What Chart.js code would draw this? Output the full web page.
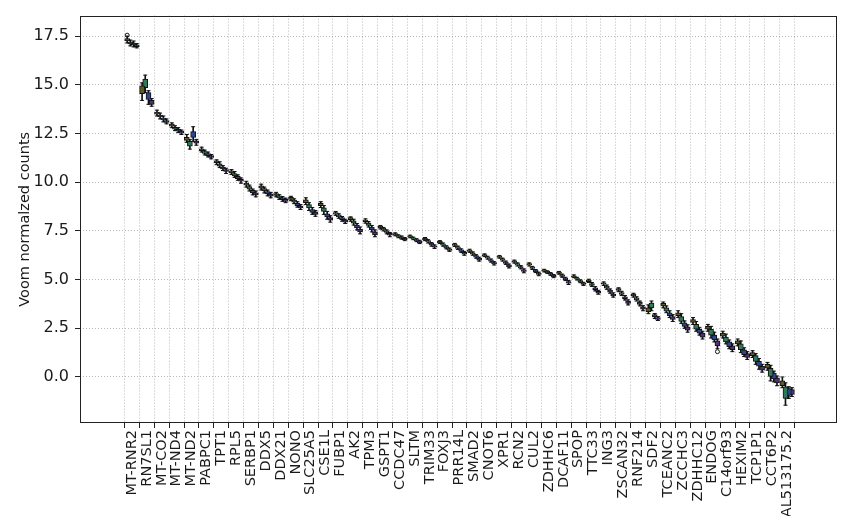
<!DOCTYPE html>
<html>
<head>
<meta charset="utf-8">
<script src="https://cdn.jsdelivr.net/npm/chart.js@4.4.0/dist/chart.umd.min.js"></script>
<style>
  html, body { margin: 0; padding: 0; background: #fff; }
  #wrap { width: 842px; height: 516px; }
</style>
</head>
<body>
<div id="wrap"><canvas id="c" width="842" height="516"></canvas></div>
<script>
// Genes, ordered by decreasing expression
const genes = ['MT-RNR2','RN7SL1','MT-CO2','MT-ND4','MT-ND2','PABPC1','TPT1','RPL5','SERBP1','DDX5',
  'DDX21','NONO','SLC25A5','CSE1L','FUBP1','AK2','TPM3','GSPT1','CCDC47','SLTM',
  'TRIM33','FOXJ3','PRR14L','SMAD2','CNOT6','XPR1','RCN2','CUL2','ZDHHC6','DCAF11',
  'SPOP','TTC33','ING3','ZSCAN32','RNF214','SDF2','TCEANC2','ZCCHC3','ZDHHC12','ENDOG',
  'C14orf93','HEXIM2','TCP1P1','CCT6P2','AL513175.2'];

const yTicks = [0, 2.5, 5, 7.5, 10, 12.5, 15, 17.5];

// Per-gene box summaries: [lower whisker, q1, q3, upper whisker]
const groupA = [
  [17.15,17.25,17.38,17.5],[14.2,14.55,14.95,15.1],[13.4,13.5,13.6,13.7],[12.8,12.88,12.98,13.05],
  [12.05,12.15,12.3,12.45],[11.55,11.62,11.72,11.8],[10.9,11.0,11.1,11.15],[10.4,10.48,10.58,10.65],
  [9.75,9.85,9.95,10.05],[9.6,9.7,9.82,9.9],[9.25,9.32,9.42,9.48],[9.05,9.12,9.22,9.28],
  [8.85,8.95,9.1,9.2],[8.7,8.8,8.92,9.0],[8.3,8.36,8.44,8.5],[8.0,8.08,8.18,8.22],
  [7.9,7.98,8.06,8.12],[7.6,7.66,7.74,7.78],[7.25,7.3,7.36,7.4],[7.15,7.19,7.25,7.28],
  [7.0,7.05,7.12,7.16],[6.85,6.9,6.96,7.0],[6.7,6.75,6.82,6.86],[6.4,6.45,6.52,6.56],
  [6.18,6.22,6.28,6.32],[6.1,6.14,6.2,6.24],[5.85,5.9,5.96,6.0],[5.7,5.75,5.82,5.86],
  [5.4,5.44,5.5,5.53],[5.28,5.32,5.38,5.42],[5.1,5.14,5.2,5.24],[4.85,4.9,4.98,5.02],
  [4.7,4.76,4.84,4.88],[4.38,4.44,4.54,4.58],[4.1,4.16,4.26,4.3],[3.25,3.35,3.55,3.7],
  [3.55,3.65,3.78,3.85],[3.05,3.15,3.3,3.4],[2.7,2.8,2.95,3.05],[2.35,2.45,2.6,2.7],
  [2.0,2.1,2.25,2.35],[1.6,1.7,1.85,1.95],[1.0,1.1,1.25,1.35],[0.35,0.45,0.65,0.75],
  [-0.55,-0.45,-0.2,0.0]
];
const groupB = [
  [17.0,17.1,17.2,17.3],[14.6,14.85,15.3,15.5],[13.25,13.35,13.45,13.55],[12.65,12.72,12.82,12.9],
  [11.7,11.85,12.1,12.2],[11.4,11.48,11.58,11.65],[10.75,10.82,10.95,11.05],[10.25,10.33,10.45,10.55],
  [9.55,9.65,9.78,9.85],[9.45,9.55,9.68,9.75],[9.12,9.2,9.3,9.36],[8.9,8.98,9.08,9.15],
  [8.55,8.68,8.85,8.95],[8.35,8.5,8.68,8.8],[8.15,8.22,8.32,8.38],[7.8,7.9,8.02,8.1],
  [7.7,7.78,7.9,7.98],[7.5,7.55,7.63,7.68],[7.15,7.2,7.26,7.3],[7.05,7.09,7.15,7.18],
  [6.88,6.93,7.0,7.05],[6.72,6.77,6.84,6.88],[6.55,6.6,6.68,6.72],[6.25,6.3,6.38,6.42],
  [6.05,6.1,6.16,6.2],[5.95,6.0,6.07,6.1],[5.7,5.75,5.82,5.86],[5.52,5.57,5.64,5.68],
  [5.32,5.36,5.42,5.45],[5.12,5.16,5.24,5.28],[4.98,5.02,5.08,5.12],[4.65,4.7,4.8,4.85],
  [4.5,4.56,4.66,4.72],[4.18,4.24,4.34,4.4],[3.9,3.96,4.06,4.12],[3.4,3.55,3.8,3.9],
  [3.3,3.38,3.55,3.65],[2.75,2.85,3.1,3.25],[2.35,2.45,2.7,2.85],[2.0,2.15,2.45,2.6],
  [1.7,1.8,2.05,2.2],[1.25,1.4,1.7,1.85],[0.65,0.8,1.1,1.2],[-0.2,0.0,0.45,0.6],
  [-1.45,-1.1,-0.5,-0.3]
];
const groupC = [
  [16.95,17.05,17.15,17.25],[14.0,14.25,14.6,14.7],[13.1,13.2,13.3,13.4],[12.55,12.62,12.72,12.8],
  [12.1,12.3,12.6,12.85],[11.3,11.37,11.47,11.55],[10.6,10.68,10.78,10.85],[10.1,10.18,10.3,10.38],
  [9.35,9.45,9.58,9.65],[9.3,9.4,9.52,9.6],[9.02,9.1,9.2,9.26],[8.72,8.8,8.92,9.0],
  [8.35,8.45,8.6,8.7],[8.1,8.22,8.38,8.5],[8.0,8.08,8.18,8.24],[7.55,7.65,7.8,7.88],
  [7.45,7.55,7.7,7.78],[7.35,7.42,7.5,7.55],[7.08,7.12,7.2,7.24],[6.95,7.0,7.06,7.1],
  [6.72,6.78,6.86,6.9],[6.58,6.63,6.7,6.74],[6.4,6.45,6.53,6.58],[6.1,6.15,6.23,6.28],
  [5.9,5.95,6.02,6.06],[5.78,5.83,5.9,5.95],[5.55,5.6,5.67,5.72],[5.36,5.41,5.48,5.52],
  [5.22,5.26,5.32,5.36],[4.95,5.0,5.08,5.12],[4.84,4.88,4.95,4.99],[4.42,4.48,4.58,4.64],
  [4.3,4.36,4.46,4.52],[3.95,4.02,4.12,4.18],[3.65,3.72,3.84,3.9],[3.0,3.08,3.2,3.26],
  [3.05,3.15,3.3,3.4],[2.5,2.6,2.78,2.88],[2.15,2.25,2.45,2.55],[1.8,1.9,2.15,2.3],
  [1.45,1.55,1.8,1.9],[1.05,1.15,1.4,1.5],[0.4,0.55,0.8,0.95],[-0.25,-0.1,0.2,0.3],
  [-1.1,-0.95,-0.6,-0.5]
];
const groupD = [
  [16.9,16.96,17.06,17.12],[13.9,14.0,14.2,14.3],[13.0,13.07,13.17,13.25],[12.45,12.52,12.62,12.68],
  [11.9,12.0,12.12,12.2],[11.2,11.27,11.37,11.42],[10.45,10.55,10.65,10.72],[9.95,10.05,10.15,10.22],
  [9.25,9.35,9.45,9.55],[9.2,9.28,9.4,9.48],[8.95,9.02,9.12,9.18],[8.6,8.68,8.78,8.85],
  [8.25,8.35,8.48,8.55],[7.95,8.05,8.18,8.28],[7.88,7.95,8.05,8.1],[7.35,7.45,7.6,7.7],
  [7.2,7.3,7.45,7.55],[7.2,7.28,7.38,7.42],[7.0,7.05,7.12,7.16],[6.85,6.9,6.98,7.02],
  [6.6,6.66,6.74,6.78],[6.45,6.5,6.58,6.62],[6.25,6.3,6.4,6.45],[5.95,6.0,6.1,6.15],
  [5.75,5.8,5.88,5.92],[5.6,5.66,5.75,5.8],[5.35,5.42,5.5,5.55],[5.2,5.26,5.34,5.38],
  [5.1,5.15,5.22,5.26],[4.75,4.82,4.9,4.95],[4.7,4.75,4.82,4.86],[4.25,4.3,4.4,4.45],
  [4.1,4.16,4.26,4.32],[3.7,3.78,3.9,3.96],[3.4,3.48,3.6,3.66],[2.9,2.95,3.05,3.1],
  [2.85,2.95,3.1,3.2],[2.3,2.4,2.58,2.68],[1.95,2.05,2.25,2.35],[1.45,1.6,1.85,1.95],
  [1.3,1.4,1.6,1.7],[0.9,1.0,1.2,1.3],[0.25,0.35,0.55,0.65],[-0.45,-0.3,-0.05,0.05],
  [-1.0,-0.9,-0.65,-0.55]
];

// Outlying samples: gene index, group index, value
const fliers = [[0, 0, 17.55], [39, 3, 1.3]];

// Drawing styles per group
const groupColors = ['#5c5a28', '#2e7a5a', '#2c4894', '#52307a'];
const groupOffsets = [-0.32, -0.11, 0.11, 0.32];

const groups = [groupA, groupB, groupC, groupD];

const boxSets = groups.map((rows, g) => ({
  type: 'bar',
  order: 0,
  grouped: false,
  data: rows.map((r, i) => ({ x: i + groupOffsets[g], y: [r[1], r[2]] })),
  backgroundColor: groupColors[g],
  borderColor: '#111',
  borderWidth: 1,
  borderSkipped: false,
  barThickness: 5
}));

const whiskerSets = groups.map((rows, g) => ({
  type: 'bar',
  order: 2,
  grouped: false,
  data: rows.map((r, i) => ({ x: i + groupOffsets[g], y: [r[0], r[3]] })),
  backgroundColor: '#111',
  borderWidth: 0,
  barThickness: 1
}));

// Whisker caps at both ends
const capSets = groups.map((rows, g) => ({
  type: 'scatter',
  order: 1,
  data: rows.flatMap((r, i) => [
    { x: i + groupOffsets[g], y: r[0] },
    { x: i + groupOffsets[g], y: r[3] }
  ]),
  pointStyle: 'line',
  pointRadius: 2,
  borderColor: '#111',
  borderWidth: 1
}));

const flierSet = {
  type: 'scatter',
  order: 0,
  data: fliers.map(f => ({ x: f[0] + groupOffsets[f[1]], y: f[2] })),
  pointStyle: 'circle',
  pointRadius: 2,
  backgroundColor: 'rgba(0,0,0,0)',
  borderColor: '#111',
  borderWidth: 1
};

// Full box around the plotting area
const frame = {
  id: 'frame',
  afterDatasetsDraw(chart) {
    const { ctx, chartArea: a } = chart;
    ctx.save();
    ctx.strokeStyle = '#222';
    ctx.lineWidth = 1;
    ctx.strokeRect(Math.round(a.left) + 0.5, Math.round(a.top) + 0.5,
      Math.round(a.right - a.left) - 1, Math.round(a.bottom - a.top) - 1);
    ctx.restore();
  }
};

const tickFontX = { family: 'DejaVu Sans', size: 14.5 };
const tickFontY = { family: 'DejaVu Sans', size: 16 };
const titleFont = { family: 'DejaVu Sans', size: 14.5 };

new Chart(document.getElementById('c'), {
  type: 'bar',
  data: { datasets: [...boxSets, flierSet, ...capSets, ...whiskerSets] },
  options: {
    responsive: false,
    devicePixelRatio: 1,
    animation: false,
    layout: { padding: { left: 0, top: 7, right: 4, bottom: 0 } },
    plugins: { legend: { display: false }, tooltip: { enabled: false } },
    scales: {
      x: {
        type: 'linear',
        offset: false,
        min: -3.49,
        max: 47.35,
        afterBuildTicks: s => { s.ticks = genes.map((g, i) => ({ value: i })); },
        afterFit: s => { s.height = 93; },
        ticks: {
          autoSkip: false,
          minRotation: 90,
          maxRotation: 90,
          padding: 2,
          color: '#1a1a1a',
          font: tickFontX,
          callback: v => genes[v]
        },
        grid: { color: 'rgba(0,0,0,0.28)', lineWidth: 1, tickLength: 5, tickColor: '#222' },
        border: { display: false, dash: [1, 2] }
      },
      y: {
        type: 'linear',
        min: -2.363,
        max: 18.556,
        afterBuildTicks: s => { s.ticks = yTicks.map(v => ({ value: v })); },
        afterFit: s => { s.width = 80; },
        ticks: {
          padding: 6,
          color: '#1a1a1a',
          font: tickFontY,
          callback: v => v.toFixed(1)
        },
        title: {
          display: true,
          text: 'Voom normalzed counts',
          color: '#1a1a1a',
          font: titleFont,
          padding: { top: 17, bottom: 0 }
        },
        grid: { color: 'rgba(0,0,0,0.28)', lineWidth: 1, tickLength: 5, tickColor: '#222' },
        border: { display: false, dash: [1, 2] }
      }
    }
  },
  plugins: [frame]
});
</script>
</body>
</html>
